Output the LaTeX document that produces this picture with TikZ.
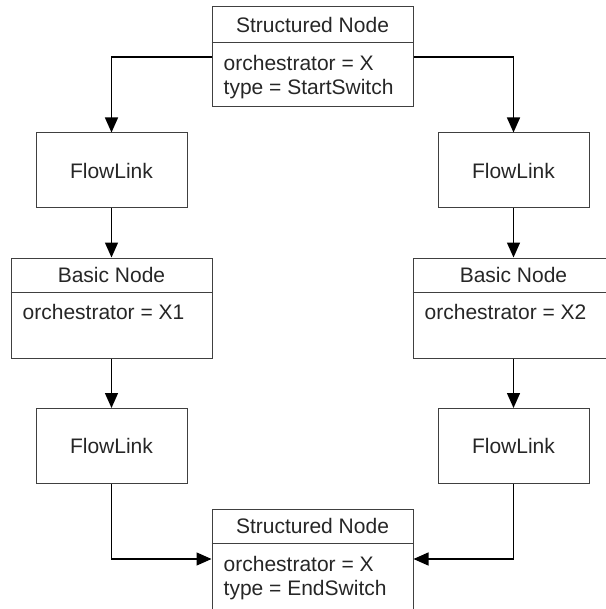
\documentclass[tikz,border=0pt]{standalone}
\usepackage{fontspec}
\setmainfont{Liberation Sans}
\usetikzlibrary{arrows.meta}

\tikzset{
  classbox/.style={draw=black!75, line width=1pt, minimum width=201pt, minimum height=100pt, inner sep=0pt},
  linkbox/.style={draw=black!75, line width=1pt, minimum width=151pt, minimum height=75pt, inner sep=0pt, text=black!85},
  headline/.style={draw=black!75, line width=1pt},
  attrtext/.style={anchor=north west, align=left, inner sep=0pt, text=black!85},
  titletext/.style={inner sep=0pt, text=black!85},
  flow/.style={-{Triangle[length=15pt,width=13pt]}, line width=1.4pt},
}

\begin{document}
\begin{tikzpicture}[x=1pt,y=-1pt,font=\fontsize{21}{24}\selectfont]

    \useasboundingbox (0,0) rectangle (605,609);

    % Nodo di partenza
    \node[classbox] (start) at (312.5,57) {};
    \draw[headline] ([yshift=-36pt]start.north west) -- ([yshift=-36pt]start.north east);
    \node[titletext] (starttitle) at ([yshift=-18pt]start.north) {Structured Node};
    \node[attrtext] (startattr) at ([xshift=12pt,yshift=-49pt]start.north west) {orchestrator = X\\type = StartSwitch};

    % Ramo sinistro
    \node[linkbox] (linkA) at (111.5,170.5) {FlowLink};
    \node[classbox] (basicA) at (111.5,308) {};
    \draw[headline] ([yshift=-35pt]basicA.north west) -- ([yshift=-35pt]basicA.north east);
    \node[titletext] (basicAtitle) at ([yshift=-17.5pt]basicA.north) {Basic Node};
    \node[attrtext] (basicAattr) at ([xshift=12pt,yshift=-47pt]basicA.north west) {orchestrator = X1};
    \node[linkbox] (linkC) at (111.5,446) {FlowLink};

    % Ramo destro
    \node[linkbox] (linkB) at (513.5,170.5) {FlowLink};
    \node[classbox] (basicB) at (513.5,308) {};
    \draw[headline] ([yshift=-35pt]basicB.north west) -- ([yshift=-35pt]basicB.north east);
    \node[titletext] (basicBtitle) at ([yshift=-17.5pt]basicB.north) {Basic Node};
    \node[attrtext] (basicBattr) at ([xshift=12pt,yshift=-47pt]basicB.north west) {orchestrator = X2};
    \node[linkbox] (linkD) at (513.5,446) {FlowLink};

    % Nodo di arrivo
    \node[classbox] (finish) at (312.5,559) {};
    \draw[headline] ([yshift=-35pt]finish.north west) -- ([yshift=-35pt]finish.north east);
    \node[titletext] (finishtitle) at ([yshift=-17.5pt]finish.north) {Structured Node};
    \node[attrtext] (finishattr) at ([xshift=12pt,yshift=-48pt]finish.north west) {orchestrator = X\\type = EndSwitch};

    % Collegamenti
    \draw[flow] (start.west) -| (linkA.north);
    \draw[flow] (start.east) -| (linkB.north);
    \draw[flow] (linkA) -- (basicA);
    \draw[flow] (linkB) -- (basicB);
    \draw[flow] (basicA) -- (linkC);
    \draw[flow] (basicB) -- (linkD);
    \draw[flow] (linkC.south) |- (finish.west);
    \draw[flow] (linkD.south) |- (finish.east);

\end{tikzpicture}
\end{document}
